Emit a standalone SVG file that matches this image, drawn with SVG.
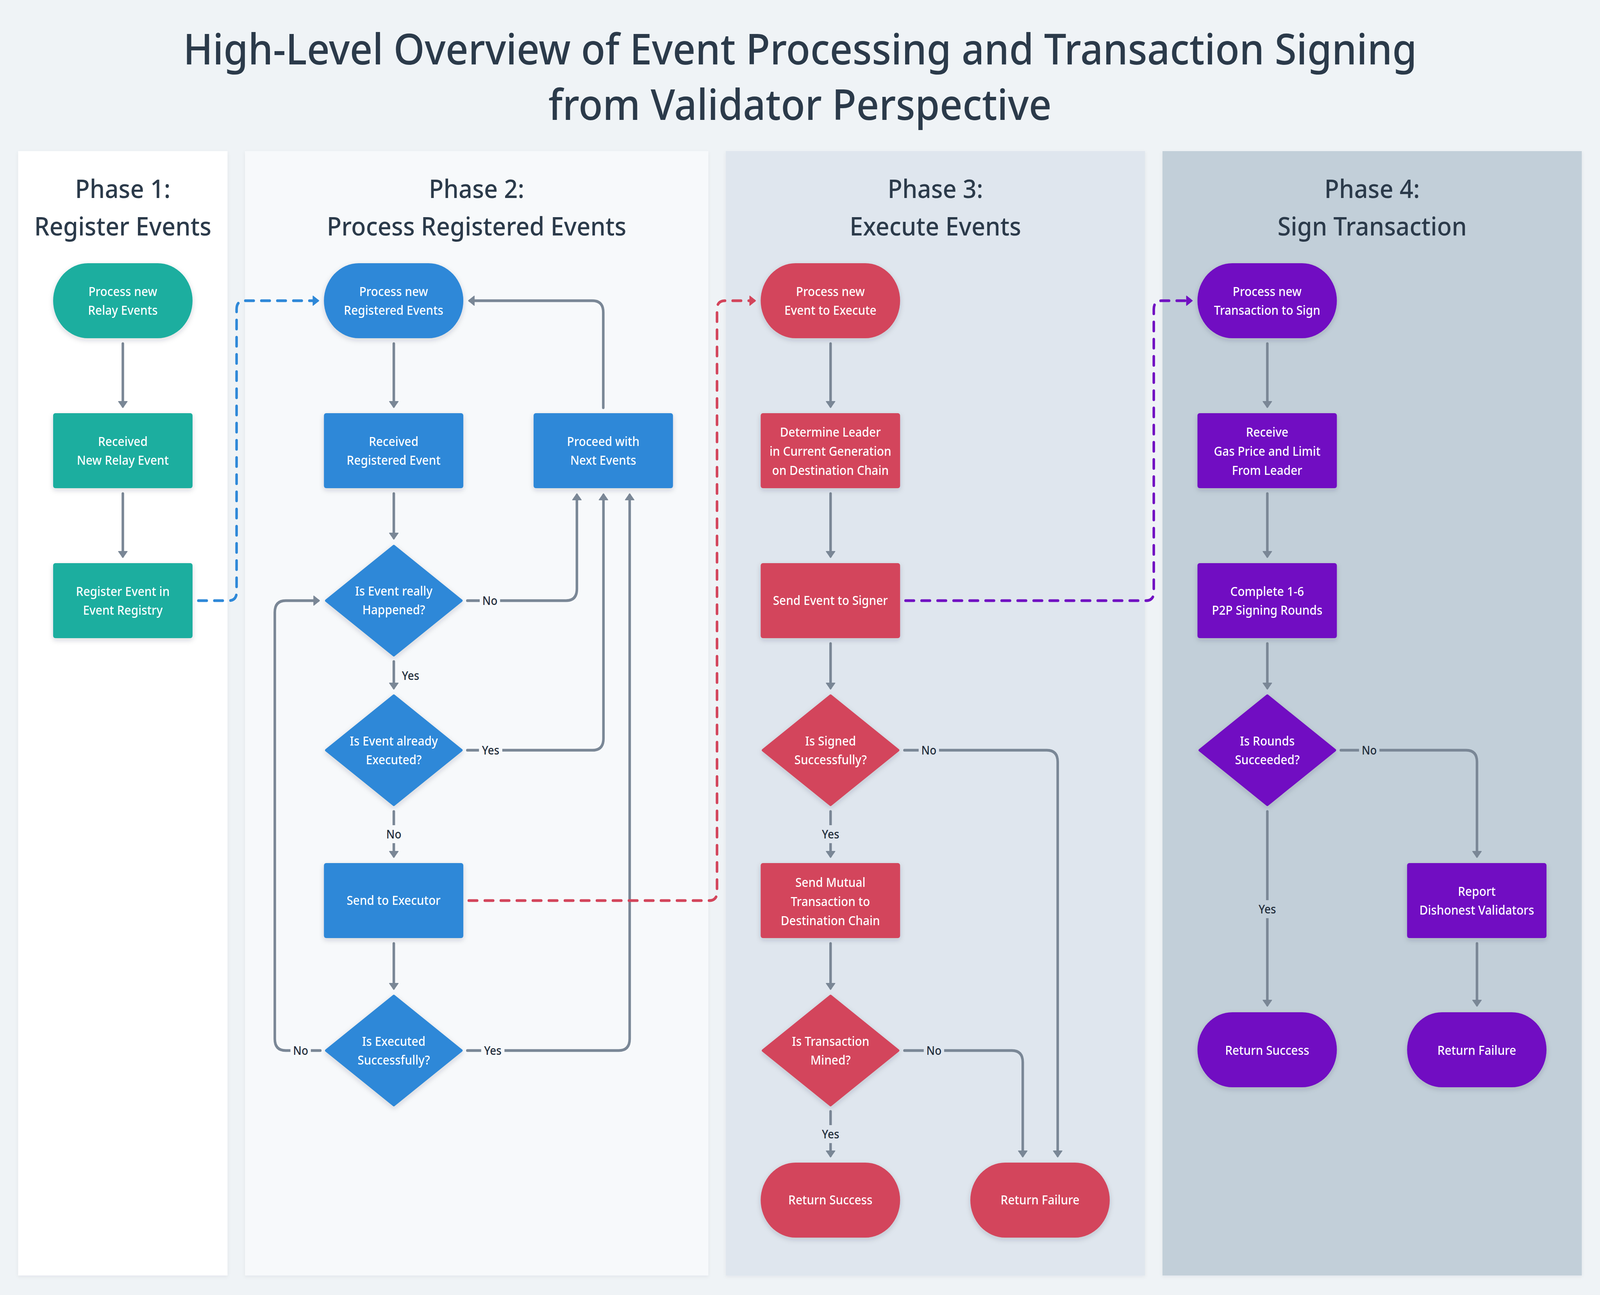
<svg xmlns="http://www.w3.org/2000/svg" width="4396" height="3316" viewBox="0 0 4396 3316" preserveAspectRatio="none" style="width:100%;height:100%">
<style>
  .title{font-family:"Noto Sans","Liberation Sans",sans-serif;font-size:109px;font-weight:500;fill:#2b3a4a;text-anchor:middle}
  .phase{font-family:"Noto Sans","Liberation Sans",sans-serif;font-size:66px;font-weight:500;fill:#2b3a4a;text-anchor:middle}
  .nt{font-family:"Noto Sans","Liberation Sans",sans-serif;font-size:32px;font-weight:500;fill:#ffffff;text-anchor:middle}
  .lb{font-family:"Noto Sans","Liberation Sans",sans-serif;font-size:30px;font-weight:500;fill:#1f2c3a;text-anchor:middle}
  .teal{fill:#1aae9f}
  .blue{fill:#2e88d8}
  .red{fill:#d3455b}
  .purple{fill:#7110c2}
  .dia{stroke-width:6;stroke-linejoin:round}
  .dia.blue{stroke:#2e88d8}
  .dia.red{stroke:#d3455b}
  .dia.purple{stroke:#7110c2}
  .node{filter:url(#sh)}
  .c{fill:none;stroke:#7a8796;stroke-width:7;stroke-linecap:round;stroke-linejoin:round}
  .ca{marker-end:url(#ag)}
  .d{fill:none;stroke-width:7;stroke-linecap:round;stroke-linejoin:round;stroke-dasharray:23 21}
  .db{stroke:#2e88d8;marker-end:url(#ab)}
  .dr{stroke:#d3455b;marker-end:url(#ar)}
  .dp{stroke:#7110c2;marker-end:url(#ap)}
  .bg2{fill:#f7f9fb}
  .bg3{fill:#dfe6ee}
  .bg4{fill:#c2cfd9}
</style>
<defs>
  <filter id="sh" x="-20%" y="-20%" width="140%" height="150%">
    <feDropShadow dx="0" dy="5" stdDeviation="7" flood-color="#1b2a3a" flood-opacity="0.18"/>
  </filter>
  <filter id="lsh" x="-5%" y="-5%" width="110%" height="110%">
    <feDropShadow dx="0" dy="3" stdDeviation="5" flood-color="#1b2a3a" flood-opacity="0.06"/>
  </filter>
  <marker id="ag" viewBox="0 0 18 26" refX="13" refY="13" markerWidth="18" markerHeight="26" markerUnits="userSpaceOnUse" orient="auto" overflow="visible">
    <path d="M1,1 L17,13 L1,25 Z" fill="#7a8796" stroke="#7a8796" stroke-width="2" stroke-linejoin="round"/>
  </marker>
  <marker id="ab" viewBox="0 0 18 26" refX="13" refY="13" markerWidth="18" markerHeight="26" markerUnits="userSpaceOnUse" orient="auto" overflow="visible">
    <path d="M1,1 L17,13 L1,25 Z" fill="#2e88d8" stroke="#2e88d8" stroke-width="2" stroke-linejoin="round"/>
  </marker>
  <marker id="ar" viewBox="0 0 18 26" refX="13" refY="13" markerWidth="18" markerHeight="26" markerUnits="userSpaceOnUse" orient="auto" overflow="visible">
    <path d="M1,1 L17,13 L1,25 Z" fill="#d3455b" stroke="#d3455b" stroke-width="2" stroke-linejoin="round"/>
  </marker>
  <marker id="ap" viewBox="0 0 18 26" refX="13" refY="13" markerWidth="18" markerHeight="26" markerUnits="userSpaceOnUse" orient="auto" overflow="visible">
    <path d="M1,1 L17,13 L1,25 Z" fill="#7110c2" stroke="#7110c2" stroke-width="2" stroke-linejoin="round"/>
  </marker>
</defs>

<rect x="0" y="0" width="4396" height="3316" fill="#eff3f6"/>

<g id="title">
  <text class="title" x="2198" y="165">High-Level Overview of Event Processing and Transaction Signing</text>
  <text class="title" x="2198" y="307">from Validator Perspective</text>
</g>

<g id="lanes">
  <g id="lane1">
    <rect x="50" y="387" width="575" height="2879" fill="#ffffff" filter="url(#lsh)"/>
    <text class="phase" x="337.5" y="507">Phase 1:</text>
    <text class="phase" x="337.5" y="603">Register Events</text>
  </g>
  <g id="lane2">
    <rect x="673" y="387" width="1273" height="2879" fill="#f7f9fb" filter="url(#lsh)"/>
    <text class="phase" x="1309.5" y="507">Phase 2:</text>
    <text class="phase" x="1309.5" y="603">Process Registered Events</text>
  </g>
  <g id="lane3">
    <rect x="1994" y="387" width="1152" height="2879" fill="#dfe6ee" filter="url(#lsh)"/>
    <text class="phase" x="2570" y="507">Phase 3:</text>
    <text class="phase" x="2570" y="603">Execute Events</text>
  </g>
  <g id="lane4">
    <rect x="3194" y="387" width="1152" height="2879" fill="#c2cfd9" filter="url(#lsh)"/>
    <text class="phase" x="3770" y="507">Phase 4:</text>
    <text class="phase" x="3770" y="603">Sign Transaction</text>
  </g>
</g>

<g id="connectors">
  <!-- Phase 1 -->
  <path class="c ca" d="M337.5 880 V1040"/>
  <path class="c ca" d="M337.5 1264 V1424"/>
  <path class="d db" d="M545 1538 H628 Q650 1538 650 1516 V792 Q650 770 672 770 H872"/>
  <!-- Phase 2 -->
  <path class="c ca" d="M1082 880 V1040"/>
  <path class="c ca" d="M1082 1264 V1377"/>
  <path class="c ca" d="M1082 1694 V1761"/>
  <path class="c ca" d="M1082 2078 V2192"/>
  <path class="c ca" d="M1082 2416 V2530"/>
  <path class="c ca" d="M1284 1538 H1555 Q1585 1538 1585 1508 V1268"/>
  <path class="c ca" d="M1284 1921 H1628 Q1658 1921 1658 1891 V1268"/>
  <path class="c ca" d="M1284 2690 H1700 Q1730 2690 1730 2660 V1268"/>
  <path class="c ca" d="M880 2690 H785 Q755 2690 755 2660 V1568 Q755 1538 785 1538 H874"/>
  <path class="c ca" d="M1657.5 1044 V800 Q1657.5 770 1627.5 770 H1291"/>
  <path class="d dr" d="M1288 2306 H1948 Q1970 2306 1970 2284 V792 Q1970 770 1992 770 H2072"/>
  <!-- Phase 3 -->
  <path class="c ca" d="M2282 880 V1040"/>
  <path class="c ca" d="M2282 1264 V1424"/>
  <path class="c ca" d="M2282 1648 V1761"/>
  <path class="c ca" d="M2282 2078 V2192"/>
  <path class="c ca" d="M2282 2416 V2530"/>
  <path class="c ca" d="M2282 2846 V2959"/>
  <path class="c ca" d="M2485 1921 H2876 Q2906 1921 2906 1951 V2959"/>
  <path class="c ca" d="M2485 2690 H2780 Q2810 2690 2810 2720 V2959"/>
  <path class="d dp" d="M2488 1538 H3148 Q3170 1538 3170 1516 V792 Q3170 770 3192 770 H3272"/>
  <!-- Phase 4 -->
  <path class="c ca" d="M3482 880 V1040"/>
  <path class="c ca" d="M3482 1264 V1424"/>
  <path class="c ca" d="M3482 1648 V1761"/>
  <path class="c ca" d="M3482 2078 V2573"/>
  <path class="c ca" d="M3684 1921 H4028 Q4058 1921 4058 1951 V2192"/>
  <path class="c ca" d="M4058 2416 V2573"/>

  <!-- labels -->
  <g id="labels">
    <rect class="bg2" x="1318" y="1518" width="56" height="40"/>
    <text class="lb" x="1346" y="1549">No</text>
    <rect class="bg2" x="1316" y="1901" width="64" height="40"/>
    <text class="lb" x="1348" y="1932">Yes</text>
    <rect class="bg2" x="1322" y="2670" width="64" height="40"/>
    <text class="lb" x="1354" y="2701">Yes</text>
    <rect class="bg2" x="798" y="2670" width="56" height="40"/>
    <text class="lb" x="826" y="2701">No</text>
    <text class="lb" x="1128" y="1741">Yes</text>
    <rect class="bg2" x="1058" y="2113" width="48" height="46"/>
    <text class="lb" x="1082" y="2147">No</text>

    <rect class="bg3" x="2524" y="1901" width="56" height="40"/>
    <text class="lb" x="2552" y="1932">No</text>
    <rect class="bg3" x="2538" y="2670" width="56" height="40"/>
    <text class="lb" x="2566" y="2701">No</text>
    <rect class="bg3" x="2254" y="2113" width="56" height="46"/>
    <text class="lb" x="2282" y="2147">Yes</text>
    <rect class="bg3" x="2254" y="2881" width="56" height="46"/>
    <text class="lb" x="2282" y="2915">Yes</text>

    <rect class="bg4" x="3734" y="1901" width="56" height="40"/>
    <text class="lb" x="3762" y="1932">No</text>
    <rect class="bg4" x="3454" y="2305" width="56" height="46"/>
    <text class="lb" x="3482" y="2339">Yes</text>
  </g>
</g>

<!-- Phase 1 nodes -->
<g id="p1_start" class="node">
  <rect class="teal" x="146" y="674" width="383" height="192" rx="96"/>
  <text class="nt" x="337.5" y="758">Process new</text>
  <text class="nt" x="337.5" y="806">Relay Events</text>
</g>
<g id="p1_received" class="node">
  <rect class="teal" x="146" y="1058" width="383" height="192" rx="6"/>
  <text class="nt" x="337.5" y="1142">Received</text>
  <text class="nt" x="337.5" y="1190">New Relay Event</text>
</g>
<g id="p1_register" class="node">
  <rect class="teal" x="146" y="1442" width="383" height="192" rx="6"/>
  <text class="nt" x="337.5" y="1526">Register Event in</text>
  <text class="nt" x="337.5" y="1574">Event Registry</text>
</g>

<!-- Phase 2 nodes -->
<g id="p2_start" class="node">
  <rect class="blue" x="890" y="674" width="383" height="192" rx="96"/>
  <text class="nt" x="1081.5" y="758">Process new</text>
  <text class="nt" x="1081.5" y="806">Registered Events</text>
</g>
<g id="p2_received" class="node">
  <rect class="blue" x="890" y="1058" width="383" height="192" rx="6"/>
  <text class="nt" x="1081.5" y="1142">Received</text>
  <text class="nt" x="1081.5" y="1190">Registered Event</text>
</g>
<g id="p2_proceed" class="node">
  <rect class="blue" x="1466" y="1058" width="383" height="192" rx="6"/>
  <text class="nt" x="1657.5" y="1142">Proceed with</text>
  <text class="nt" x="1657.5" y="1190">Next Events</text>
</g>
<g id="p2_happened" class="node">
  <polygon class="blue dia" points="1082,1398 1268,1538 1082,1678 896,1538"/>
  <text class="nt" x="1082" y="1525">Is Event really</text>
  <text class="nt" x="1082" y="1573">Happened?</text>
</g>
<g id="p2_executed" class="node">
  <polygon class="blue dia" points="1082,1781 1268,1921 1082,2061 896,1921"/>
  <text class="nt" x="1082" y="1909">Is Event already</text>
  <text class="nt" x="1082" y="1957">Executed?</text>
</g>
<g id="p2_send" class="node">
  <rect class="blue" x="890" y="2210" width="383" height="192" rx="6"/>
  <text class="nt" x="1081.5" y="2317">Send to Executor</text>
</g>
<g id="p2_success" class="node">
  <polygon class="blue dia" points="1082,2550 1268,2690 1082,2830 896,2690"/>
  <text class="nt" x="1082" y="2678">Is Executed</text>
  <text class="nt" x="1082" y="2726">Successfully?</text>
</g>

<!-- Phase 3 nodes -->
<g id="p3_start" class="node">
  <rect class="red" x="2090" y="674" width="383" height="192" rx="96"/>
  <text class="nt" x="2281.5" y="758">Process new</text>
  <text class="nt" x="2281.5" y="806">Event to Execute</text>
</g>
<g id="p3_leader" class="node">
  <rect class="red" x="2090" y="1058" width="383" height="192" rx="6"/>
  <text class="nt" x="2281.5" y="1118">Determine Leader</text>
  <text class="nt" x="2281.5" y="1167">in Current Generation</text>
  <text class="nt" x="2281.5" y="1216">on Destination Chain</text>
</g>
<g id="p3_signer" class="node">
  <rect class="red" x="2090" y="1442" width="383" height="192" rx="6"/>
  <text class="nt" x="2281.5" y="1549">Send Event to Signer</text>
</g>
<g id="p3_signed" class="node">
  <polygon class="red dia" points="2282,1781 2468,1921 2282,2061 2096,1921"/>
  <text class="nt" x="2282" y="1909">Is Signed</text>
  <text class="nt" x="2282" y="1957">Successfully?</text>
</g>
<g id="p3_mutual" class="node">
  <rect class="red" x="2090" y="2210" width="383" height="192" rx="6"/>
  <text class="nt" x="2281.5" y="2271">Send Mutual</text>
  <text class="nt" x="2281.5" y="2320">Transaction to</text>
  <text class="nt" x="2281.5" y="2369">Destination Chain</text>
</g>
<g id="p3_mined" class="node">
  <polygon class="red dia" points="2282,2550 2468,2690 2282,2830 2096,2690"/>
  <text class="nt" x="2282" y="2678">Is Transaction</text>
  <text class="nt" x="2282" y="2726">Mined?</text>
</g>
<g id="p3_return_success" class="node">
  <rect class="red" x="2090" y="2977" width="383" height="192" rx="96"/>
  <text class="nt" x="2281.5" y="3084">Return Success</text>
</g>
<g id="p3_return_failure" class="node">
  <rect class="red" x="2666" y="2977" width="383" height="192" rx="96"/>
  <text class="nt" x="2857.5" y="3084">Return Failure</text>
</g>

<!-- Phase 4 nodes -->
<g id="p4_start" class="node">
  <rect class="purple" x="3290" y="674" width="383" height="192" rx="96"/>
  <text class="nt" x="3481.5" y="758">Process new</text>
  <text class="nt" x="3481.5" y="806">Transaction to Sign</text>
</g>
<g id="p4_receive" class="node">
  <rect class="purple" x="3290" y="1058" width="383" height="192" rx="6"/>
  <text class="nt" x="3481.5" y="1118">Receive</text>
  <text class="nt" x="3481.5" y="1167">Gas Price and Limit</text>
  <text class="nt" x="3481.5" y="1216">From Leader</text>
</g>
<g id="p4_complete" class="node">
  <rect class="purple" x="3290" y="1442" width="383" height="192" rx="6"/>
  <text class="nt" x="3481.5" y="1526">Complete 1-6</text>
  <text class="nt" x="3481.5" y="1574">P2P Signing Rounds</text>
</g>
<g id="p4_rounds" class="node">
  <polygon class="purple dia" points="3482,1781 3668,1921 3482,2061 3296,1921"/>
  <text class="nt" x="3482" y="1909">Is Rounds</text>
  <text class="nt" x="3482" y="1957">Succeeded?</text>
</g>
<g id="p4_report" class="node">
  <rect class="purple" x="3866" y="2210" width="383" height="192" rx="6"/>
  <text class="nt" x="4057.5" y="2294">Report</text>
  <text class="nt" x="4057.5" y="2342">Dishonest Validators</text>
</g>
<g id="p4_return_success" class="node">
  <rect class="purple" x="3290" y="2592" width="383" height="192" rx="96"/>
  <text class="nt" x="3481.5" y="2701">Return Success</text>
</g>
<g id="p4_return_failure" class="node">
  <rect class="purple" x="3866" y="2592" width="383" height="192" rx="96"/>
  <text class="nt" x="4057.5" y="2701">Return Failure</text>
</g>
</svg>
